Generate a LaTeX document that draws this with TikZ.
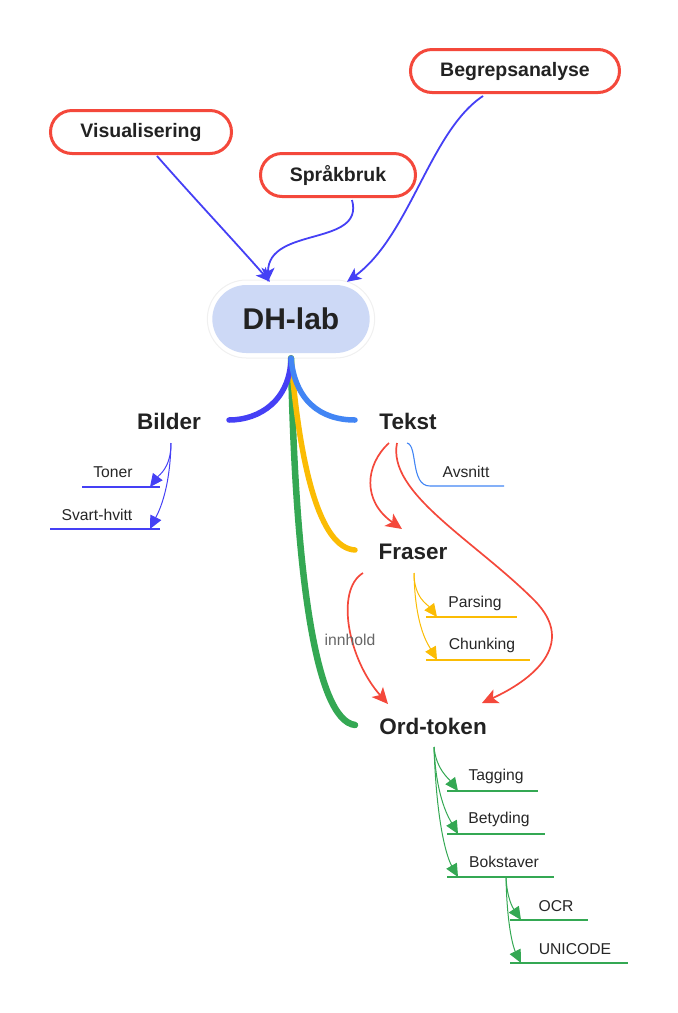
\documentclass[tikz,border=0pt]{standalone}
\usepackage{fontspec}
\setmainfont{Liberation Sans}
\usetikzlibrary{arrows.meta,shapes.misc,calc}
\definecolor{redc}{HTML}{F4483B}
\definecolor{bluec}{HTML}{4540F5}
\definecolor{lblue}{HTML}{4285F4}
\definecolor{yel}{HTML}{FBBC04}
\definecolor{grn}{HTML}{34A853}
\definecolor{dhfill}{HTML}{CDD9F6}
\definecolor{txt}{HTML}{222222}
\begin{document}
\begin{tikzpicture}[x=1pt,y=-1pt,
  topic/.style={rounded rectangle, draw=redc, line width=3pt, fill=white, minimum height=43pt, inner sep=0pt, font=\bfseries\fontsize{19.5}{22}\selectfont, text=txt},
  mainlbl/.style={font=\bfseries\fontsize{22.5}{26}\selectfont, text=txt, inner sep=1pt},
  sublbl/.style={font=\fontsize{15.7}{18}\selectfont, text=black!85, inner sep=1pt},
  toparrow/.style={line width=1.8pt, bluec, -{Stealth[length=14pt,width=13pt,inset=3.5pt]}},
  redarrow/.style={line width=1.7pt, redc, -{Stealth[length=16pt,width=15pt,inset=4pt]}},
  branch/.style={line width=5.5pt, line cap=round},
  subarrow/.style={line width=1pt, -{Triangle[length=13pt,width=12pt]}},
  uline/.style={line width=1.1pt}
]
\useasboundingbox (0,0) rectangle (678,1013);
% top topics
\node[topic, minimum width=181pt] (vis) at (141,132) {Visualisering};
\node[topic, minimum width=155pt] (spr) at (338,175) {Språkbruk};
\node[topic, minimum width=209pt] (beg) at (515,71) {Begrepsanalyse};
% central node
\node[rounded rectangle, fill=white, draw=black!6, line width=1pt, minimum width=174pt, minimum height=78pt] (dhglow) at (291,319) {};
\node[rounded rectangle, fill=dhfill, minimum width=164pt, minimum height=68pt, font=\bfseries\fontsize{30}{34}\selectfont, text=txt] (dh) at (291,319) {DH-lab};
% arrows into DH-lab
\draw[toparrow] ($(vis.south)+(16,1)$) .. controls +(35,40) and +(-35,-40) .. ($(dh.north)+(-21,-3)$);
\draw[toparrow] ($(spr.south)+(14,2)$) .. controls +(13,47) and +(0,-56) .. ($(dh.north)+(-23,-3)$);
\draw[toparrow] ($(beg.south)+(-32,2)$) .. controls +(-53,35) and +(63,-46) .. ($(dh.north)+(56,-3)$);
% main labels
\node[mainlbl] (bilder) at (169,421) {Bilder};
\node[mainlbl] (tekst) at (408,421) {Tekst};
\node[mainlbl] (fraser) at (413,552) {Fraser};
\node[mainlbl] (ord) at (433,726) {Ord-token};
% branches
\coordinate (root) at ($(dh.south)+(0,5)$);
\draw[branch, grn, line width=6.5pt] (root) .. controls +(4,210) and +(-40,-5) .. (355,725);
\draw[branch, yel] (root) .. controls +(9,110) and +(-35,-2) .. (355,550);
\draw[branch, bluec] (root) .. controls +(-1,42) and +(31,0) .. (229,420);
\draw[branch, lblue] (root) .. controls +(4,42) and +(-35,0) .. (355,420);
% Bilder subs
\node[sublbl] (toner) at (113,472) {Toner};
\node[sublbl] (svart) at (97,515) {Svart-hvitt};
\coordinate (tonerR) at (160,487); \coordinate (tonerL) at (82,487);
\coordinate (svartR) at (160,529); \coordinate (svartL) at (50,529);
\coordinate (tonerT) at (150,487); \coordinate (svartT) at (150,529);
\coordinate (bilS) at (171,443);
\draw[uline, bluec] (tonerL) -- (tonerR);
\draw[uline, bluec] (svartL) -- (svartR);
\draw[subarrow, bluec] (bilS) .. controls +(0,25) and +(9,-12) .. (tonerT);
\draw[subarrow, bluec] (bilS) .. controls +(-1,50) and +(7,-14) .. (svartT);
% Tekst subs
\node[sublbl] (avsnitt) at (466,472) {Avsnitt};
\coordinate (avsL) at (430,486); \coordinate (avsR) at (504,486);
\draw[uline, lblue] (407,443) .. controls +(11,2) and +(-20,0) .. (avsL) -- (avsR);
\draw[redarrow] (389,443) .. controls +(-24,22) and +(-40,-28) .. (402,529);
\draw[redarrow] (397,443) .. controls +(-10,50) and +(-60,-60) .. (534,600) .. controls +(45,45) and +(48,-22) .. (482,703);
% Fraser subs
\node[sublbl] (parsing) at (475,603) {Parsing};
\node[sublbl] (chunking) at (482,645) {Chunking};
\coordinate (parL) at (426,617); \coordinate (parR) at (517,617);
\coordinate (chuL) at (426,660); \coordinate (chuR) at (530,660);
\coordinate (parT) at (437,617); \coordinate (chuT) at (437,660);
\coordinate (frS) at (414,573);
\draw[uline, yel] (parL) -- (parR);
\draw[uline, yel] (chuL) -- (chuR);
\draw[subarrow, yel] (frS) .. controls +(0,25) and +(-9,-12) .. (parT);
\draw[subarrow, yel] (frS) .. controls +(1,55) and +(-8,-14) .. (chuT);
\draw[redarrow] (363,573) .. controls +(-28,17) and +(-40,-45) .. (388,704);
\node[sublbl, text=black!60] (innhold) at (350,640) {innhold};
% Ord-token subs
\node[sublbl] (tagging) at (496,776) {Tagging};
\node[sublbl] (betyding) at (499,819) {Betyding};
\node[sublbl] (bokstaver) at (504,862) {Bokstaver};
\coordinate (tagL) at (447,791); \coordinate (tagR) at (538,791);
\coordinate (betL) at (447,834); \coordinate (betR) at (545,834);
\coordinate (bokL) at (447,877); \coordinate (bokR) at (554,877);
\coordinate (tagT) at (458,791); \coordinate (betT) at (458,834); \coordinate (bokT) at (458,877);
\draw[uline, grn] (tagL) -- (tagR);
\draw[uline, grn] (betL) -- (betR);
\draw[uline, grn] (bokL) -- (bokR);
\coordinate (ordS) at (434,747);
\draw[subarrow, grn] (ordS) .. controls +(2,22) and +(-9,-12) .. (tagT);
\draw[subarrow, grn] (ordS) .. controls +(2,52) and +(-8,-14) .. (betT);
\draw[subarrow, grn] (ordS) .. controls +(3,90) and +(-8,-14) .. (bokT);
% Bokstaver subs
\node[sublbl] (ocr) at (556,906) {OCR};
\node[sublbl] (unicode) at (575,949) {UNICODE};
\coordinate (ocrL) at (510,920); \coordinate (ocrR) at (588,920);
\coordinate (uniL) at (510,963); \coordinate (uniR) at (628,963);
\coordinate (ocrT) at (521,920); \coordinate (uniT) at (521,963);
\draw[uline, grn] (ocrL) -- (ocrR);
\draw[uline, grn] (uniL) -- (uniR);
\coordinate (bokS) at (506,877);
\draw[subarrow, grn] (bokS) .. controls +(1,22) and +(-8,-12) .. (ocrT);
\draw[subarrow, grn] (bokS) .. controls +(1,52) and +(-7,-14) .. (uniT);
\end{tikzpicture}
\end{document}
